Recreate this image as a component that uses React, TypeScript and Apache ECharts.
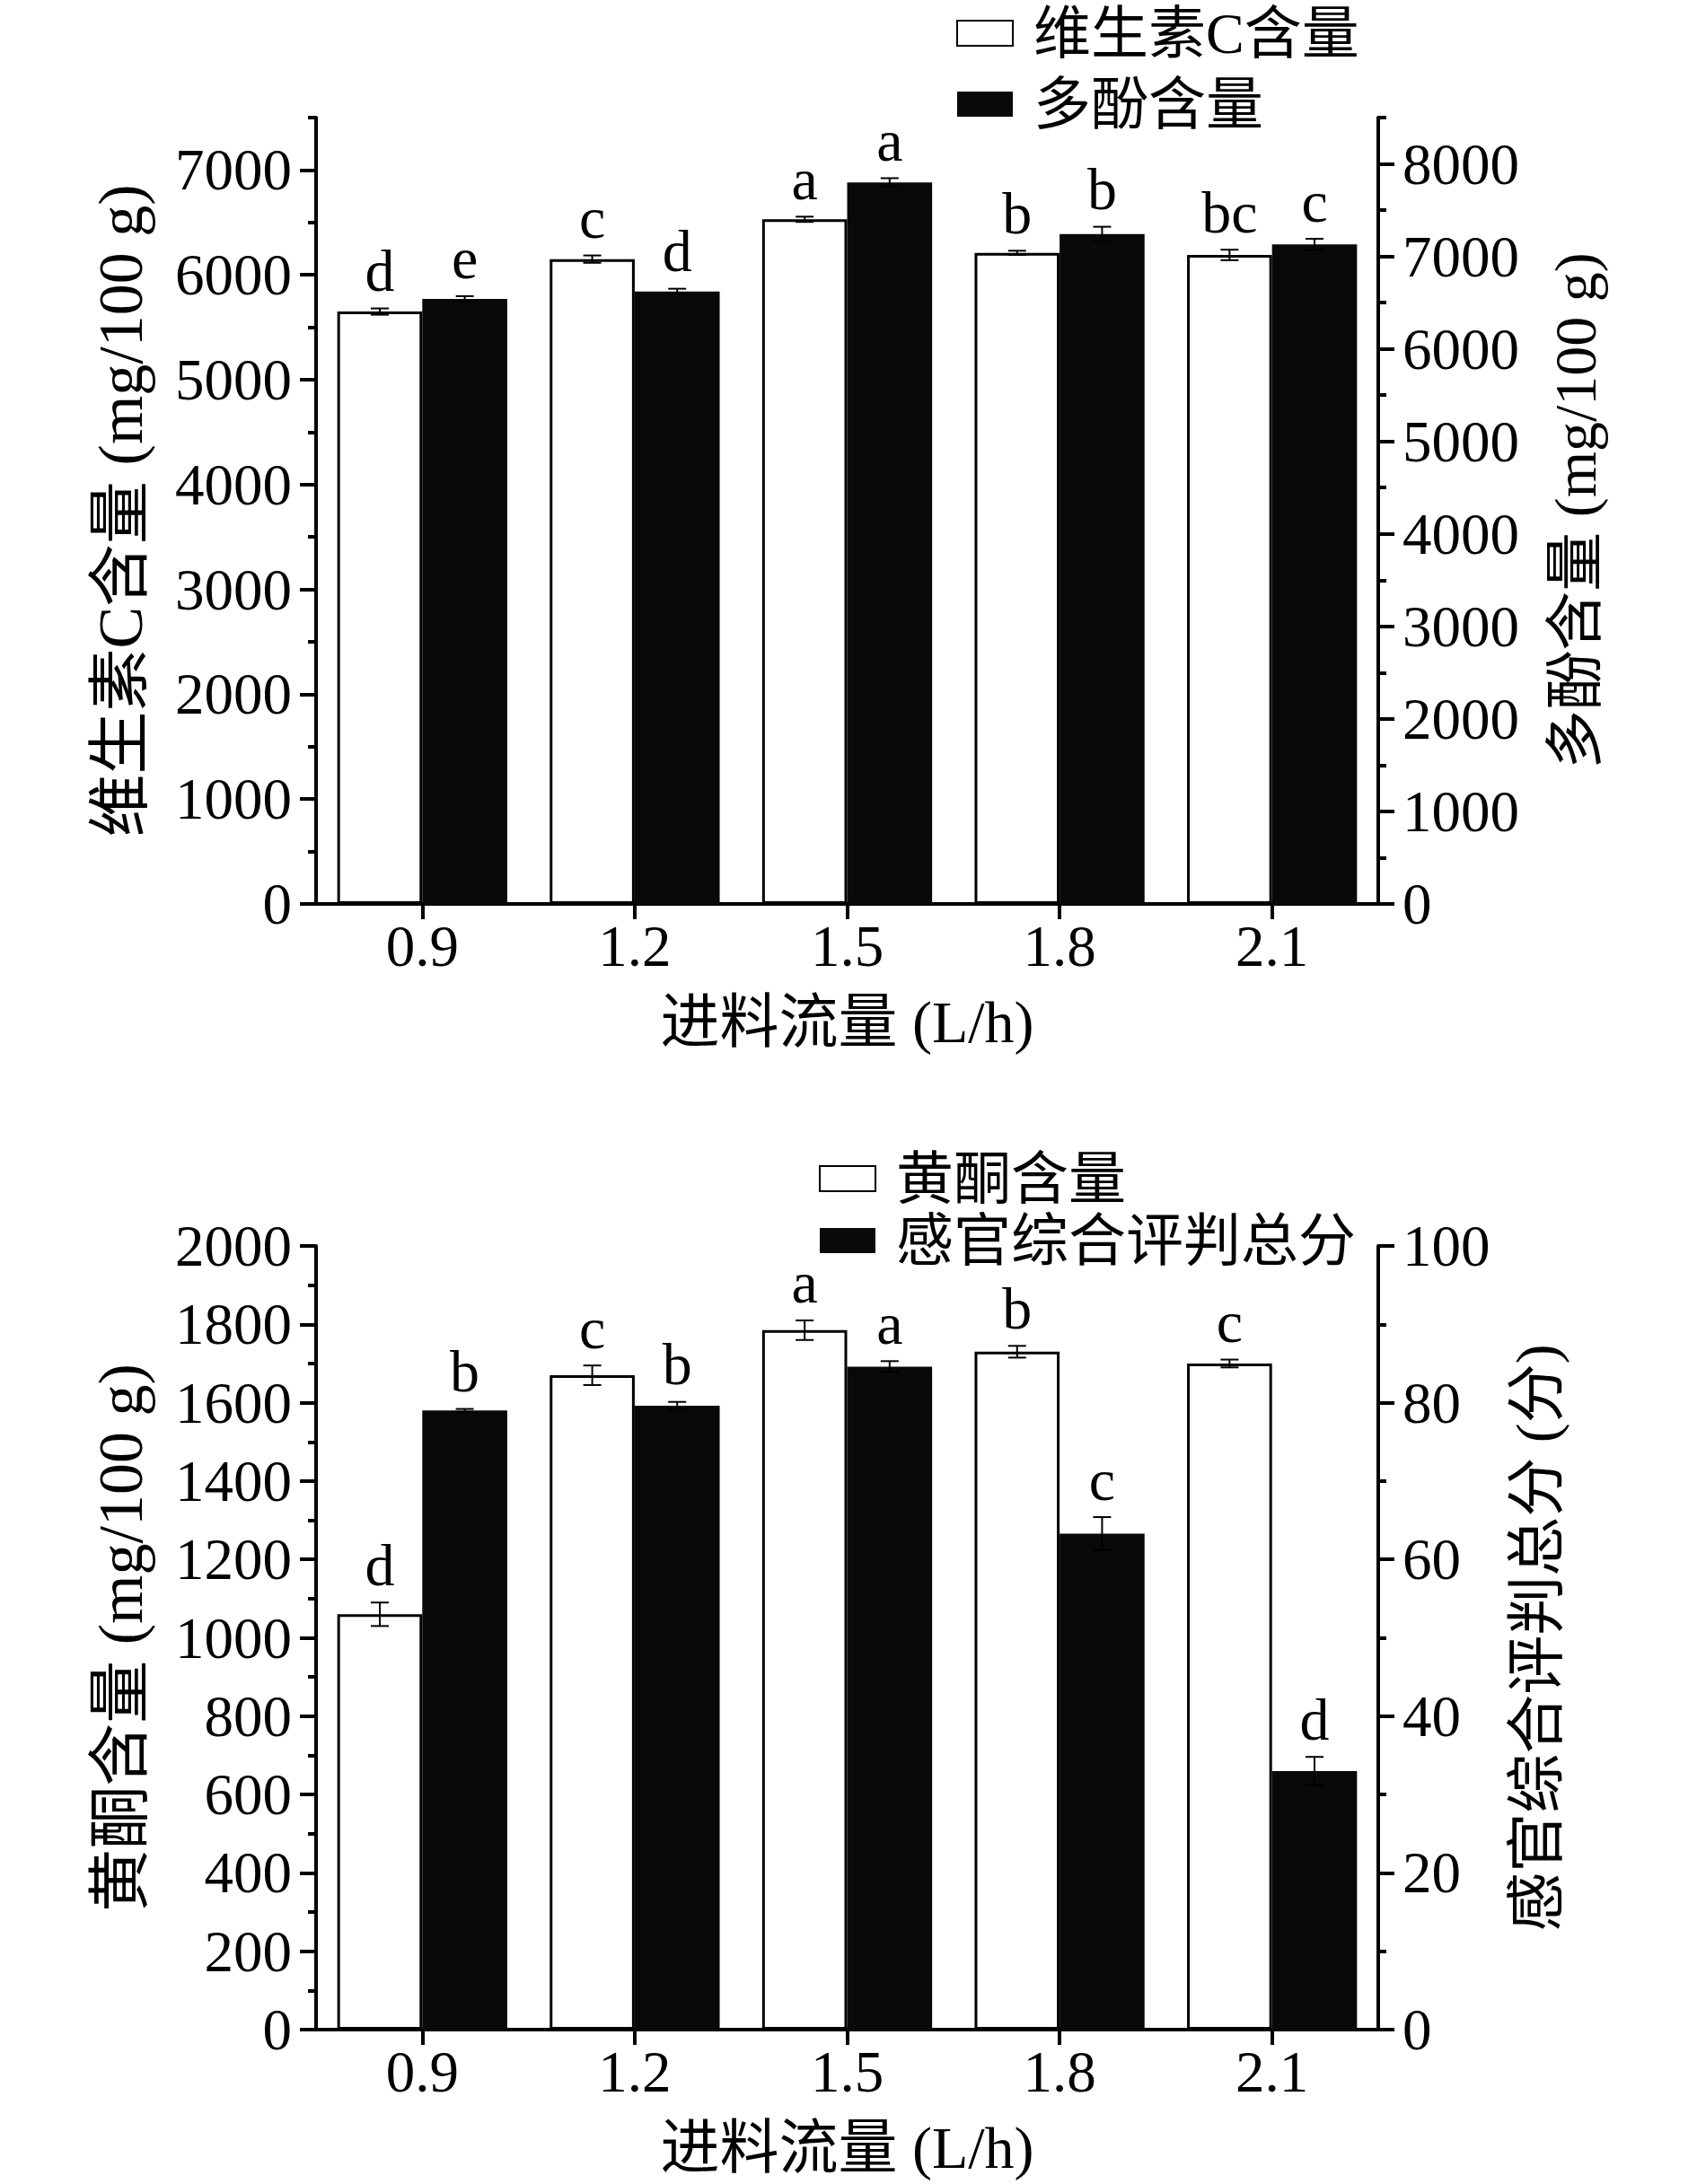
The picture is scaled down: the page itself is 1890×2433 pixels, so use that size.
import React, { useEffect, useRef } from "react";
import * as echarts from "echarts";

const categories = ["0.9", "1.2", "1.5", "1.8", "2.1"];

// Top chart
const vcValues = [5650, 6150, 6530, 6210, 6190];
const vcErrors = [30, 35, 25, 20, 50];
const vcLetters = ["d", "c", "a", "b", "bc"];
const polyValues = [6540, 6620, 7800, 7240, 7130];
const polyErrors = [30, 30, 45, 80, 60];
const polyLetters = ["e", "d", "a", "b", "c"];

// Bottom chart
const flavValues = [1060, 1670, 1785, 1730, 1700];
const flavErrors = [30, 25, 25, 15, 10];
const flavLetters = ["d", "c", "a", "b", "c"];
const sensValues = [79.0, 79.6, 84.6, 63.3, 33.0];
const sensErrors = [0.2, 0.5, 0.7, 2.1, 1.8];
const sensLetters = ["b", "b", "a", "c", "d"];

// Tick labels
const vcTicks = [0, 1000, 2000, 3000, 4000, 5000, 6000, 7000];
const polyTicks = [0, 1000, 2000, 3000, 4000, 5000, 6000, 7000, 8000];
const flavTicks = [0, 200, 400, 600, 800, 1000, 1200, 1400, 1600, 1800, 2000];
const sensTicks = [0, 20, 40, 60, 80, 100];

const FONT = "'Liberation Serif', 'Noto Sans CJK SC', serif";
const BLACK = "#080a09";

function majorAxis(grid: number, pos: string, max: number, ticks: number[], name: string, nameGap: number, nameSize: number) {
  return {
    type: "value",
    gridIndex: grid,
    position: pos,
    min: 0,
    max,
    name,
    nameLocation: "middle",
    nameRotate: 90,
    nameGap,
    nameTextStyle: { fontSize: nameSize, fontFamily: FONT, color: "#000" },
    axisLine: { show: true, lineStyle: { color: "#000", width: 4 } },
    axisTick: { show: true, length: 18, lineStyle: { color: "#000", width: 4 }, customValues: ticks },
    axisLabel: {
      show: true,
      fontSize: 65,
      fontFamily: FONT,
      color: "#000",
      margin: 27,
      customValues: ticks,
      formatter: (v: number) => String(v),
    },
    splitLine: { show: false },
  };
}

function minorAxis(grid: number, pos: string, max: number, interval: number) {
  return {
    type: "value",
    gridIndex: grid,
    position: pos,
    min: 0,
    max,
    interval,
    axisLine: { show: false },
    axisTick: { show: true, length: 9, lineStyle: { color: "#000", width: 4 } },
    axisLabel: { show: false },
    splitLine: { show: false },
  };
}

function xAxisDef(grid: number) {
  return {
    type: "category",
    gridIndex: grid,
    data: categories,
    name: "进料流量 (L/h)",
    nameLocation: "middle",
    nameGap: 98,
    nameTextStyle: { fontSize: 66, fontFamily: FONT, color: "#000" },
    axisLine: { show: true, lineStyle: { color: "#000", width: 4 } },
    axisTick: { show: true, alignWithLabel: true, length: 17, lineStyle: { color: "#000", width: 4 } },
    axisLabel: { fontSize: 65, fontFamily: FONT, color: "#000", margin: 14 },
    splitLine: { show: false },
  };
}

function errSeries(xIdx: number, yIdx: number, values: number[], errors: number[], letters: string[], offset: number) {
  return {
    type: "custom",
    xAxisIndex: xIdx,
    yAxisIndex: yIdx,
    z: 5,
    silent: true,
    data: values.map((v, i) => [i, v, errors[i]]),
    renderItem: (params: any, api: any) => {
      const x = api.value(0);
      const v = api.value(1);
      const e = api.value(2);
      const band = api.size([1, 0])[0];
      const cx = api.coord([x, v])[0] + offset * band;
      const top = api.coord([x, v + e])[1];
      const bot = api.coord([x, v - e])[1];
      const half = 10;
      const ls = { stroke: "#000", lineWidth: 2 };
      return {
        type: "group",
        children: [
          { type: "line", shape: { x1: cx, y1: top, x2: cx, y2: bot }, style: ls },
          { type: "line", shape: { x1: cx - half, y1: top, x2: cx + half, y2: top }, style: ls },
          { type: "line", shape: { x1: cx - half, y1: bot, x2: cx + half, y2: bot }, style: ls },
          {
            type: "text",
            x: cx,
            y: top - 42,
            style: {
              text: letters[params.dataIndex],
              fill: "#000",
              fontSize: 66,
              fontFamily: FONT,
              align: "center",
              verticalAlign: "middle",
            },
          },
        ],
      };
    },
  };
}

function legendDef(names: string[], left: number, top: number, gap: number) {
  return {
    data: names,
    orient: "vertical",
    left,
    top,
    icon: "rect",
    itemWidth: 62,
    itemHeight: 28,
    itemGap: gap,
    selectedMode: false,
    textStyle: { fontSize: 64, lineHeight: 64, fontFamily: FONT, color: "#000", padding: [0, 0, 0, 18] },
  };
}

export default function App() {
  const ref = useRef<HTMLDivElement>(null);
  useEffect(() => {
    document.body.style.margin = "0";
    if (!ref.current) return;
    const chart = echarts.init(ref.current, null, { renderer: "svg" });
    const whiteStyle = { color: "#fff", borderColor: "#000", borderWidth: 3 };
    const blackStyle = { color: BLACK, borderColor: BLACK, borderWidth: 0 };
    chart.setOption({
      animation: false,
      backgroundColor: "#fff",
      legend: [
        legendDef(["维生素C含量", "多酚含量"], 1060, 0, 15),
        legendDef(["黄酮含量", "感官综合评判总分"], 907, 1276, 5),
      ],
      grid: [
        { left: 352, width: 1183, top: 131, height: 876 },
        { left: 352, width: 1183, top: 1388, height: 873 },
      ],
      xAxis: [xAxisDef(0), xAxisDef(1)],
      yAxis: [
        majorAxis(0, "left", 7500, vcTicks, "维生素C含量 (mg/100 g)", 183, 70),
        majorAxis(0, "right", 8500, polyTicks, "多酚含量 (mg/100 g)", 186, 66),
        minorAxis(0, "left", 7500, 500),
        minorAxis(0, "right", 8500, 500),
        majorAxis(1, "left", 2000, flavTicks, "黄酮含量 (mg/100 g)", 183, 70),
        majorAxis(1, "right", 100, sensTicks, "感官综合评判总分 (分)", 143, 66),
        minorAxis(1, "left", 2000, 100),
        minorAxis(1, "right", 100, 10),
      ],
      series: [
        { type: "bar", name: "维生素C含量", xAxisIndex: 0, yAxisIndex: 0, data: vcValues, barWidth: "40%", barGap: "0%", itemStyle: whiteStyle },
        { type: "bar", name: "多酚含量", xAxisIndex: 0, yAxisIndex: 1, data: polyValues, barWidth: "40%", barGap: "0%", itemStyle: blackStyle },
        { type: "bar", name: "黄酮含量", xAxisIndex: 1, yAxisIndex: 4, data: flavValues, barWidth: "40%", barGap: "0%", itemStyle: whiteStyle },
        { type: "bar", name: "感官综合评判总分", xAxisIndex: 1, yAxisIndex: 5, data: sensValues, barWidth: "40%", barGap: "0%", itemStyle: blackStyle },
        errSeries(0, 0, vcValues, vcErrors, vcLetters, -0.2),
        errSeries(0, 1, polyValues, polyErrors, polyLetters, 0.2),
        errSeries(1, 4, flavValues, flavErrors, flavLetters, -0.2),
        errSeries(1, 5, sensValues, sensErrors, sensLetters, 0.2),
      ],
    });
    return () => chart.dispose();
  }, []);
  return <div ref={ref} style={{ width: 1890, height: 2433 }} />;
}
